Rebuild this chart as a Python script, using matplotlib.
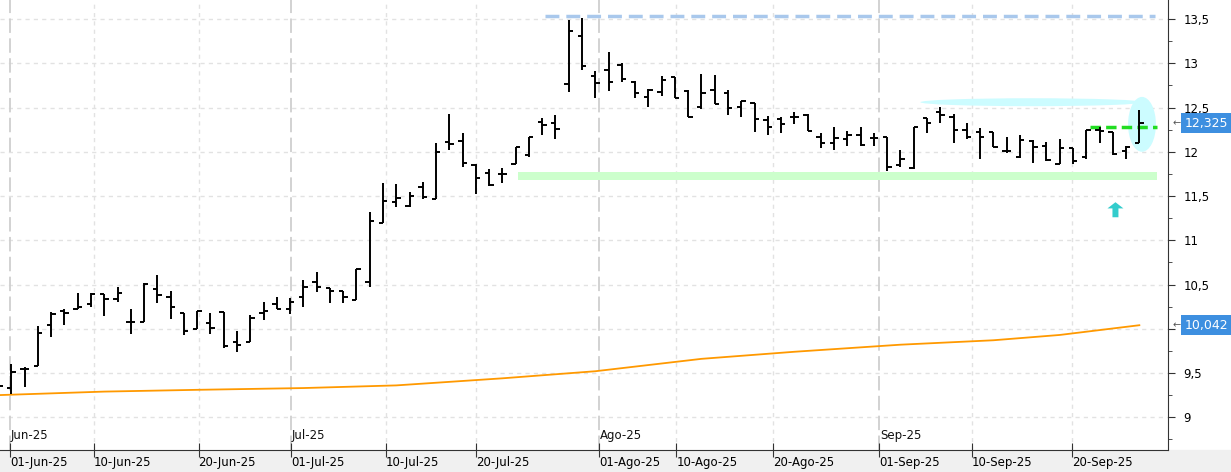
import matplotlib
matplotlib.use("Agg")
import matplotlib.pyplot as plt
from matplotlib.patches import Ellipse, FancyArrow
import numpy as np

opens = [9.30,9.33,9.55,9.58,10.04,10.20,10.22,10.28,10.39,10.34,10.08,10.08,10.45,10.36,10.18,10.00,10.06,10.19,9.85,9.85,
         10.18,10.28,10.22,10.36,10.53,10.46,10.43,10.33,10.53,11.19,11.43,11.39,11.60,11.47,12.11,12.12,11.85,11.76,11.75,11.86,
         11.96,12.34,12.32,12.77,13.31,12.86,12.92,12.98,12.79,12.62,12.68,12.84,12.69,12.51,12.70,12.66,12.51,12.55,12.36,12.37,
         12.39,12.42,12.17,12.10,12.14,12.19,12.16,12.17,11.85,11.82,12.38,12.45,12.39,12.25,12.22,12.22,12.01,11.94,12.12,12.06,
         11.86,12.04,11.94,12.25,12.22,12.01,12.10]
highs = [9.40,9.60,9.57,10.03,10.19,10.22,10.40,10.40,10.39,10.47,10.22,10.52,10.61,10.43,10.18,10.20,10.18,10.19,9.97,10.16,
         10.30,10.36,10.35,10.55,10.64,10.46,10.43,10.68,11.32,11.65,11.64,11.55,11.66,12.10,12.43,12.21,11.86,11.81,11.82,12.05,
         12.17,12.38,12.42,13.49,13.51,12.91,13.13,13.00,12.80,12.71,12.86,12.84,12.70,12.88,12.87,12.70,12.57,12.55,12.40,12.39,
         12.45,12.43,12.21,12.28,12.23,12.28,12.21,12.17,12.02,12.28,12.38,12.51,12.43,12.32,12.27,12.22,12.17,12.19,12.13,12.11,
         12.14,12.04,12.25,12.28,12.22,12.07,12.47]
lows = [9.25,9.26,9.34,9.58,9.91,10.04,10.22,10.25,10.14,10.30,9.94,10.08,10.29,10.11,9.93,10.00,9.94,9.78,9.74,9.85,
        10.10,10.22,10.17,10.25,10.42,10.29,10.29,10.33,10.47,11.19,11.38,11.38,11.47,11.47,12.02,11.83,11.52,11.61,11.65,11.86,
        11.94,12.19,12.14,12.68,12.92,12.61,12.69,12.79,12.61,12.51,12.63,12.61,12.39,12.48,12.54,12.42,12.39,12.22,12.19,12.21,
        12.31,12.24,12.04,12.02,12.06,12.06,12.06,11.78,11.83,11.81,12.21,12.32,12.10,12.14,11.92,12.05,11.99,11.93,11.87,11.90,
        11.86,11.86,11.92,12.10,11.96,11.92,12.10]
closes = [9.35,9.51,9.55,9.95,10.17,10.18,10.25,10.39,10.34,10.40,10.08,10.51,10.38,10.25,9.97,10.20,10.01,9.81,9.82,10.12,
          10.20,10.22,10.30,10.47,10.47,10.43,10.36,10.68,11.22,11.44,11.48,11.50,11.49,12.00,12.09,11.87,11.70,11.62,11.75,12.05,
          12.17,12.30,12.26,13.36,12.97,12.78,12.79,12.82,12.66,12.70,12.81,12.61,12.39,12.66,12.54,12.49,12.57,12.37,12.28,12.31,
          12.39,12.24,12.10,12.16,12.19,12.08,12.16,11.83,11.92,12.28,12.32,12.42,12.25,12.17,12.17,12.05,12.01,12.13,12.05,11.91,
          12.04,11.90,12.25,12.24,11.97,12.05,12.32]
ma_idx = [0, 8, 15, 23, 30, 38, 45, 53, 60, 68, 75, 80, 86]
ma_val = [9.25, 9.29, 9.31, 9.33, 9.36, 9.44, 9.52, 9.66, 9.74, 9.82, 9.87, 9.93, 10.04]

date_pos = [0.9, 7.2, 15.1, 22.1, 29.2, 36.0, 45.3, 51.1, 58.4, 66.4, 73.4, 80.9]
date_labels = ["01-Jun-25","10-Jun-25","20-Jun-25","01-Jul-25","10-Jul-25","20-Jul-25",
               "01-Ago-25","10-Ago-25","20-Ago-25","01-Sep-25","10-Sep-25","20-Sep-25"]
month_pos = [0.9, 22.1, 45.3, 66.4]
month_labels = ["Jun-25", "Jul-25", "Ago-25", "Sep-25"]
yticks = [9, 9.5, 10, 10.5, 11, 11.5, 12, 12.5, 13, 13.5]
last_price = 12.325
last_ma = 10.042

fig = plt.figure(figsize=(12.31, 4.72), dpi=100)
fig.patch.set_facecolor("white")
ax = fig.add_axes([0, 22/472, 1168/1231, 450/472])
ax.set_xlim(0.14, 88.16)
ax.set_ylim(8.63, 13.715)

for y in yticks:
    ax.axhline(y, color="#e2e2e2", lw=1, ls=(0, (3, 3)), zorder=0)
for p in date_pos:
    if p in month_pos:
        ax.axvline(p, color="#cfcfcf", lw=1.3, ls=(0, (8, 3)), zorder=0)
    else:
        ax.axvline(p, color="#e2e2e2", lw=1, ls=(0, (3, 3)), zorder=0)

# annotations
ax.hlines(13.53, 41.2, 87.2, color="#a9c8ec", lw=2.5, ls=(0, (4, 2)), zorder=1)
ax.fill_between([39.2, 87.3], 11.68, 11.77, color="#ccffcc", lw=0, zorder=1)
ax.add_patch(Ellipse((77.9, 12.56), 16.8, 0.09, color="#ccfcff", lw=0, zorder=1))
ax.add_patch(Ellipse((86.2, 12.31), 2.1, 0.62, color="#ccfcff", lw=0, zorder=1))
ax.hlines(12.28, 82.3, 87.3, color="#22dd22", lw=2.5, ls=(0, (3, 1.5)), zorder=3)
ax.add_patch(FancyArrow(84.2, 11.26, 0, 0.1, width=0.45, head_width=1.2, head_length=0.07,
                        color="#33cccc", lw=0, zorder=3))

ax.plot(ma_idx, ma_val, color="#ff9900", lw=1.3, zorder=2)

x = np.arange(len(opens))
ax.vlines(x, lows, highs, color="black", lw=1.4, zorder=4)
ax.hlines(opens, x - 0.33, x, color="black", lw=1.4, zorder=4)
ax.hlines(closes, x, x + 0.33, color="black", lw=1.4, zorder=4)

for p, l in zip(month_pos, month_labels):
    ax.text(p + 0.05, 8.72, l, fontsize=8.5, ha="left", va="bottom", color="#111111")

ax.set_xticks(date_pos)
ax.set_xticklabels(date_labels, ha="left", fontsize=8.5)
ax.tick_params(axis="x", length=10, direction="inout", pad=-1, color="#333333")
ax.yaxis.tick_right()
ax.set_yticks(yticks)
ax.set_yticklabels(["" if v == 10 else f"{v:g}".replace(".", ",") for v in yticks], fontsize=8.5)
ax.set_yticks(np.arange(8.75, 13.7, 0.25), minor=True)
ax.tick_params(axis="y", which="both", direction="out", length=5, pad=6, color="#333333")
ax.tick_params(axis="y", which="minor", length=3)
for s in ["top", "left"]:
    ax.spines[s].set_visible(False)
ax.spines["right"].set_color("#333333")
ax.spines["bottom"].set_color("#333333")

fig.patches.append(plt.Rectangle((0, 0), 1, 22/472, transform=fig.transFigure,
                                 color="#f0f0f0", zorder=-1))
for v, lab in [(last_price, "12,325"), (last_ma, "10,042")]:
    yf = (v - 8.63) / (13.715 - 8.63)
    ax.text(1.004, yf, "\u2190", transform=ax.transAxes, fontsize=7,
            va="center", ha="left", color="#555555")
    ax.text(1.014, yf, lab, transform=ax.transAxes, fontsize=9,
            va="center", ha="left", color="white",
            bbox=dict(boxstyle="square,pad=0.3", fc="#3d8fe0", ec="none"))

fig.savefig("out.png", dpi=100)
